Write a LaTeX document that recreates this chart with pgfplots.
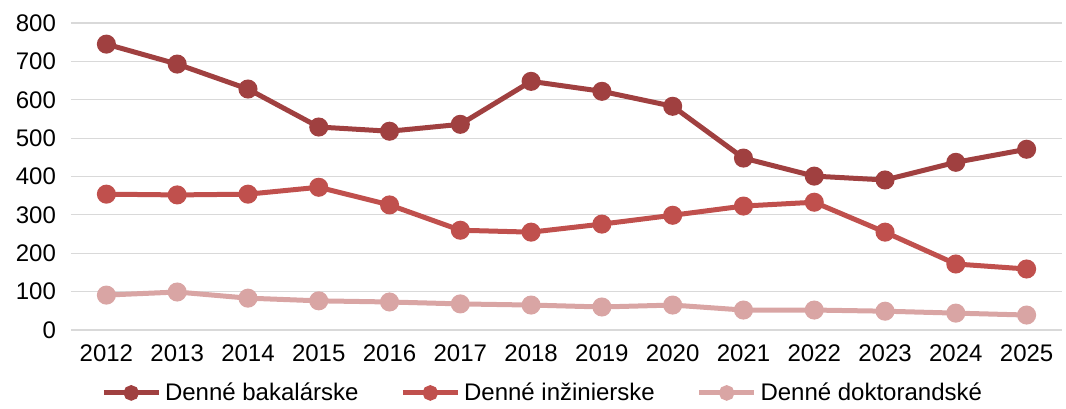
\documentclass[border=0pt]{standalone}
\usepackage{pgfplots}
\pgfplotsset{compat=1.18}
\usepackage{fontspec}
\setmainfont{Liberation Sans}
\definecolor{cA}{HTML}{A04040}
\definecolor{cB}{HTML}{C0504D}
\definecolor{cC}{HTML}{D9A5A4}
\definecolor{gridc}{HTML}{D9D9D9}
\begin{document}
\begin{tikzpicture}
\useasboundingbox (-35.5pt,-39pt) rectangle (497.5pt,165pt);
\begin{axis}[
  at={(0,0)}, anchor=south west,
  scale only axis, width=495.5pt, height=153.5pt,
  xmin=-0.5, xmax=13.5, ymin=0, ymax=800,
  xtick={0,...,13},
  xticklabels={2012,2013,2014,2015,2016,2017,2018,2019,2020,2021,2022,2023,2024,2025},
  ytick={0,100,...,800},
  ymajorgrids, grid style={draw=gridc, line width=0.6pt},
  axis line style={draw=none},
  axis x line*=bottom, axis y line*=left,
  major tick length=0pt,
  tick style={draw=none},
  ticklabel style={font=\fontsize{12}{14}\selectfont},
  /pgf/number format/assume math mode=true,
  yticklabel style={xshift=-4pt},
  xticklabel style={yshift=-4pt},
  legend columns=3,
  legend style={draw=none, at={(0.477,-0.205)}, anchor=center, font=\fontsize{12}{14}\selectfont,
    /tikz/every even column/.append style={column sep=19pt},
    /tikz/every odd column/.append style={column sep=0pt}},
  legend image code/.code={\draw[mark repeat=2,mark phase=2, mark size=2.6pt] plot coordinates {(0cm,0cm)(0.48cm,0cm)(0.96cm,0cm)};},
  every axis plot/.append style={line width=2.5pt, mark=*, mark size=3.5pt, mark options={solid}},
]
\addplot[cA, mark options={fill=cA}] coordinates {(0,745)(1,693)(2,628)(3,529)(4,518)(5,536)(6,648)(7,622)(8,583)(9,448)(10,401)(11,391)(12,437)(13,471)};
\addlegendentry{Denné bakalárske}
\addplot[cB, mark options={fill=cB}] coordinates {(0,354)(1,352)(2,354)(3,372)(4,326)(5,260)(6,255)(7,276)(8,299)(9,323)(10,333)(11,255)(12,172)(13,159)};
\addlegendentry{Denné inžinierske}
\addplot[cC, mark options={fill=cC}] coordinates {(0,91)(1,99)(2,83)(3,76)(4,73)(5,68)(6,65)(7,60)(8,65)(9,52)(10,52)(11,49)(12,44)(13,39)};
\addlegendentry{Denné doktorandské}
\end{axis}
\end{tikzpicture}
\end{document}
